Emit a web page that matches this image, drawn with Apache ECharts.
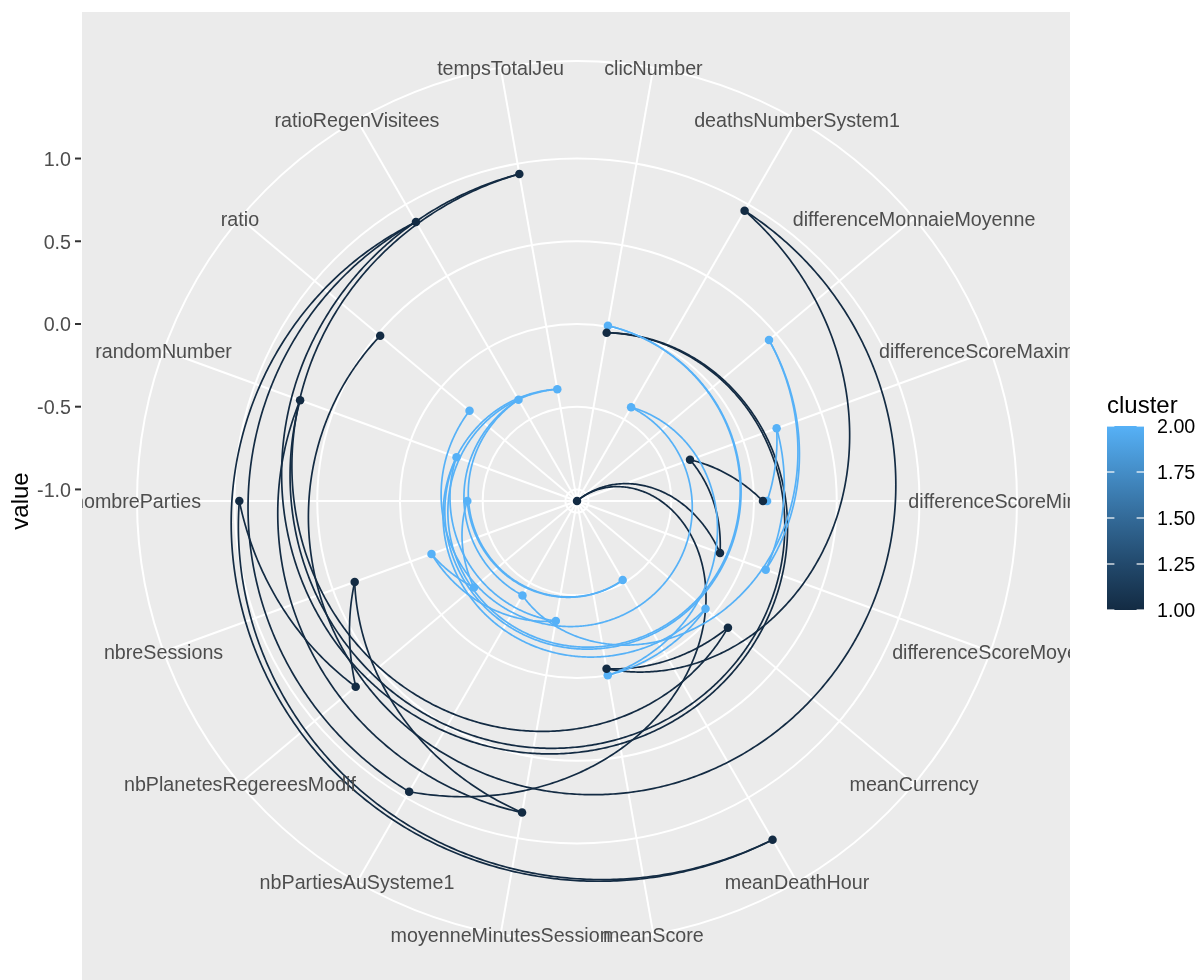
<!DOCTYPE html>
<html>
<head>
<meta charset="utf-8">
<title>cluster profiles</title>
<script src="https://cdn.jsdelivr.net/npm/echarts@6/dist/echarts.min.js"></script>
<style>
  html, body { margin: 0; padding: 0; background: #ffffff; }
  #chart { width: 1198px; height: 980px; }
</style>
</head>
<body>
<div id="chart"></div>
<script>
// Variables around the circle (alphabetical, clockwise from the top)
const categories = [
  'clicNumber', 'deathsNumberSystem1', 'differenceMonnaieMoyenne',
  'differenceScoreMaximum', 'differenceScoreMinimum', 'differenceScoreMoyen',
  'meanCurrency', 'meanDeathHour', 'meanScore', 'moyenneMinutesSession',
  'nbPartiesAuSysteme1', 'nbPlanetesRegereesModif', 'nbreSessions',
  'nombreParties', 'randomNumber', 'ratio', 'ratioRegenVisitees', 'tempsTotalJeu'
];

// Row order of the long table: each cluster path visits the variables in this order
const pathOrder = [
  'differenceScoreMinimum', 'differenceScoreMaximum', 'differenceScoreMoyen',
  'differenceMonnaieMoyenne', 'nbPartiesAuSysteme1', 'ratioRegenVisitees',
  'meanDeathHour', 'nombreParties', 'nbPlanetesRegereesModif', 'nbreSessions',
  'moyenneMinutesSession', 'randomNumber', 'clicNumber', 'tempsTotalJeu',
  'meanCurrency', 'meanScore', 'deathsNumberSystem1', 'ratio'
];

// Scaled cluster centres, same order as categories
const cluster1 = [-0.037, 0.956, -1.070, -0.343, 0.054, -0.150, 0.121, 1.294, -0.041,
                  0.842, 0.959, 0.676, 0.360, 0.971, 0.711, 0.483, 0.877, 0.937];
const cluster2 = [0.006, -0.416, 0.445, 0.214, 0.079, 0.144, -0.056, -0.518, 0.000,
                  -0.333, -0.411, -0.257, -0.134, -0.407, -0.295, -0.222, -0.363, -0.384];
const clusterIds = [1, 2];

// Radial axis breaks and colour-bar breaks
const radiusBreaks = [-1.0, -0.5, 0.0, 0.5, 1.0];
const radiusLabels = ['-1.0', '-0.5', '0.0', '0.5', '1.0'];
const legendBreaks = [1.00, 1.25, 1.50, 1.75, 2.00];
const legendLabels = ['1.00', '1.25', '1.50', '1.75', '2.00'];

// ---------------------------------------------------------------------------
const FONT = '"Liberation Sans", Arial, Helvetica, sans-serif';
const TEXT_SIZE = 19.7;
const TEXT_NUDGE = 2;   // canvas 'middle' sits a little high for this font
const LOW = '#132B43', HIGH = '#56B1F7';
const gradientStops = ['#132B43', '#22496C', '#336A98', '#448DC7', '#56B1F7'];
const PANEL = { left: 82, right: 1070, top: 12, bottom: 990 };

const allValues = cluster1.concat(cluster2);
const rMin = Math.min.apply(null, allValues);
const rMax = Math.max.apply(null, allValues);
// the data range fills 0.4 of the panel, the variable names sit at 0.45
const outerValue = rMin + (rMax - rMin) * 0.45 / 0.4;

function clusterColor(id) {
  return id === 1 ? LOW : HIGH;
}
function angleOf(name) {
  return categories.indexOf(name) + 0.5;
}
function pathData(values) {
  return pathOrder.map(function (name) {
    return [values[categories.indexOf(name)], angleOf(name)];
  });
}
function pointData(values) {
  return values.map(function (v, i) { return [v, i + 0.5]; });
}

// A path segment runs linearly in (angle, radius), so it curls into a spiral
function pathRenderer(points, color) {
  return function (params, api) {
    const i = params.dataIndex;
    if (i === 0) return { type: 'group', children: [] };
    const a = points[i - 1], b = points[i];
    const steps = Math.max(2, Math.ceil(Math.abs(b[1] - a[1]) * 40));
    const pts = [];
    for (let k = 0; k <= steps; k++) {
      const t = k / steps;
      pts.push(api.coord([a[0] + (b[0] - a[0]) * t, a[1] + (b[1] - a[1]) * t]));
    }
    return {
      type: 'polyline',
      shape: { points: pts },
      style: { stroke: color, lineWidth: 1.7, fill: 'none', lineJoin: 'round' },
      silent: true
    };
  };
}

const paths = [pathData(cluster1), pathData(cluster2)];

const series = [];

// radial grid circles (major breaks + outer ring)
series.push({
  type: 'custom', coordinateSystem: 'polar', z: 1, silent: true,
  data: radiusBreaks.concat([outerValue]).map(function (v) { return [v, 0]; }),
  renderItem: function (params, api) {
    const c = api.coord([rMin, 0]);
    const p = api.coord([api.value(0), 0]);
    return {
      type: 'circle',
      shape: { cx: c[0], cy: c[1], r: Math.hypot(p[0] - c[0], p[1] - c[1]) },
      style: { fill: 'none', stroke: '#FFFFFF', lineWidth: 2 }
    };
  }
});

// spokes, one per variable
series.push({
  type: 'custom', coordinateSystem: 'polar', z: 1, silent: true,
  data: categories.map(function (c, i) { return [outerValue, i + 0.5]; }),
  renderItem: function (params, api) {
    const c = api.coord([rMin, 0]);
    const p = api.coord([api.value(0), api.value(1)]);
    return {
      type: 'line',
      shape: { x1: c[0], y1: c[1], x2: p[0], y2: p[1] },
      style: { stroke: '#FFFFFF', lineWidth: 2 }
    };
  }
});

// cluster paths
clusterIds.forEach(function (id, k) {
  series.push({
    type: 'custom', coordinateSystem: 'polar', z: 2 + k, silent: true,
    name: 'cluster ' + id,
    data: paths[k],
    renderItem: pathRenderer(paths[k], clusterColor(id))
  });
});

// points (cluster 2 first, cluster 1 on top)
[1, 0].forEach(function (k, j) {
  const values = k === 0 ? cluster1 : cluster2;
  series.push({
    type: 'scatter', coordinateSystem: 'polar', z: 5 + j, silent: true,
    symbol: 'circle', symbolSize: 8.5,
    itemStyle: { color: clusterColor(clusterIds[k]), opacity: 1 },
    data: pointData(values)
  });
});

// variable names at the 0.45 ring
series.push({
  type: 'custom', coordinateSystem: 'polar', z: 8, silent: true,
  data: categories.map(function (c, i) { return [outerValue, i + 0.5]; }),
  renderItem: function (params, api) {
    const p = api.coord([api.value(0), api.value(1)]);
    return {
      type: 'text', x: p[0], y: p[1] + TEXT_NUDGE,
      style: {
        text: categories[params.dataIndex], fill: '#4D4D4D',
        fontSize: TEXT_SIZE, fontFamily: FONT, align: 'center', verticalAlign: 'middle'
      }
    };
  }
});

// left value axis: labels and ticks at the radius of each break
series.push({
  type: 'custom', coordinateSystem: 'polar', z: 60, silent: true,
  data: radiusBreaks.map(function (v) { return [v, 0]; }),
  renderItem: function (params, api) {
    const p = api.coord([api.value(0), 0]);
    return {
      type: 'group',
      children: [
        { type: 'line', shape: { x1: 75, y1: p[1], x2: 81, y2: p[1] },
          style: { stroke: '#333333', lineWidth: 2 } },
        { type: 'text', x: 71, y: p[1] + TEXT_NUDGE,
          style: { text: radiusLabels[params.dataIndex], fill: '#4D4D4D',
                   fontSize: TEXT_SIZE, fontFamily: FONT, align: 'right', verticalAlign: 'middle' } }
      ]
    };
  }
});

// colour bar
const BAR = { x: 1107, w: 37, top: 426, bottom: 610 };
function barY(v) {
  const lo = legendBreaks[0], hi = legendBreaks[legendBreaks.length - 1];
  return BAR.bottom - (v - lo) / (hi - lo) * (BAR.bottom - BAR.top);
}
const graphics = [
  { type: 'rect', z: 0, silent: true,
    shape: { x: PANEL.left, y: PANEL.top, width: PANEL.right - PANEL.left, height: PANEL.bottom - PANEL.top },
    style: { fill: '#EBEBEB' } },
  // white margins clip the names that run past the panel
  { type: 'rect', z: 50, silent: true, shape: { x: 0, y: 0, width: PANEL.left, height: 980 }, style: { fill: '#FFFFFF' } },
  { type: 'rect', z: 50, silent: true, shape: { x: PANEL.right, y: 0, width: 1198 - PANEL.right, height: 980 }, style: { fill: '#FFFFFF' } },
  { type: 'rect', z: 50, silent: true, shape: { x: 0, y: 0, width: 1198, height: PANEL.top }, style: { fill: '#FFFFFF' } },
  { type: 'text', z: 60, silent: true, x: 21, y: 501, rotation: Math.PI / 2,
    style: { text: 'value', fill: '#000000', fontSize: 24, fontFamily: FONT, align: 'center', verticalAlign: 'middle' } },
  { type: 'text', z: 60, silent: true, x: 1107, y: 406,
    style: { text: 'cluster', fill: '#000000', fontSize: 24, fontFamily: FONT, align: 'left', verticalAlign: 'middle' } },
  { type: 'rect', z: 60, silent: true,
    shape: { x: BAR.x, y: BAR.top, width: BAR.w, height: BAR.bottom - BAR.top },
    style: {
      fill: new echarts.graphic.LinearGradient(0, 1, 0, 0, gradientStops.map(function (c, i) {
        return { offset: i / (gradientStops.length - 1), color: c };
      }))
    } }
];
legendBreaks.forEach(function (v, i) {
  const y = barY(v);
  graphics.push(
    { type: 'line', z: 61, silent: true, shape: { x1: BAR.x, y1: y, x2: BAR.x + BAR.w / 5, y2: y },
      style: { stroke: '#FFFFFF', lineWidth: 1.2 } },
    { type: 'line', z: 61, silent: true, shape: { x1: BAR.x + BAR.w * 4 / 5, y1: y, x2: BAR.x + BAR.w, y2: y },
      style: { stroke: '#FFFFFF', lineWidth: 1.2 } },
    { type: 'text', z: 61, silent: true, x: 1157, y: y + TEXT_NUDGE,
      style: { text: legendLabels[i], fill: '#000000', fontSize: TEXT_SIZE, fontFamily: FONT, align: 'left', verticalAlign: 'middle' } }
  );
});

const chart = echarts.init(document.getElementById('chart'), null, { renderer: 'canvas', width: 1198, height: 980 });
chart.setOption({
  animation: false,
  backgroundColor: '#FFFFFF',
  polar: { center: [577, 501], radius: [0, 440] },
  angleAxis: {
    type: 'value', min: 0, max: categories.length, startAngle: 90, clockwise: true,
    show: false, axisLine: { show: false }, axisTick: { show: false },
    axisLabel: { show: false }, splitLine: { show: false }
  },
  radiusAxis: {
    type: 'value', min: rMin, max: outerValue,
    show: false, axisLine: { show: false }, axisTick: { show: false },
    axisLabel: { show: false }, splitLine: { show: false }
  },
  graphic: { elements: graphics },
  series: series
});
</script>
</body>
</html>
